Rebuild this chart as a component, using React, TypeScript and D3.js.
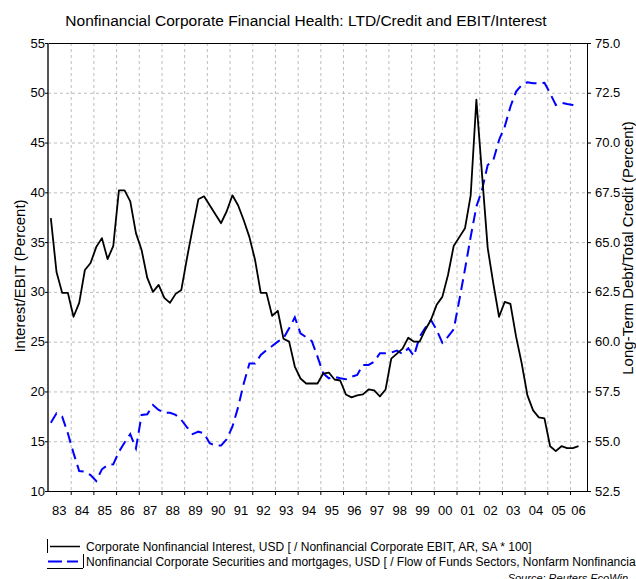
import React from 'react';
import * as d3 from 'd3';

// quarterly series, 1983Q1 .. 2006Q2
const startYear = 1983;

const interestEbit = [
  37.4, 32.0, 29.9, 29.9, 27.5, 28.9, 32.2, 32.9, 34.5, 35.4, 33.3, 34.6,
  40.2, 40.2, 39.1, 35.9, 34.2, 31.4, 30.0, 30.7, 29.4, 28.9, 29.8, 30.2,
  33.4, 36.4, 39.3, 39.6, 38.7, 37.8, 36.9, 38.1, 39.7, 38.7, 37.2, 35.5,
  33.2, 29.9, 29.9, 27.6, 28.1, 25.3, 25.0, 22.5, 21.3, 20.8, 20.8, 20.8,
  21.8, 21.9, 21.2, 21.1, 19.7, 19.4, 19.6, 19.7, 20.2, 20.1, 19.5, 20.2,
  23.3, 23.8, 24.3, 25.4, 25.0, 25.0, 26.2, 27.2, 28.7, 29.5, 31.7, 34.6,
  35.5, 36.4, 39.7, 49.3, 41.8, 34.4, 30.8, 27.5, 29.0, 28.8, 25.5, 22.8,
  19.6, 18.1, 17.4, 17.3, 14.5, 14.0, 14.5, 14.3, 14.3, 14.5,
];

const ltdCredit = [
  55.93, 56.4, 56.23, 55.4, 54.4, 53.5, 53.47, 53.3, 53.0, 53.59, 53.8, 53.84,
  54.47, 54.94, 55.36, 54.64, 56.32, 56.35, 56.82, 56.57, 56.43, 56.43, 56.32, 56.07,
  55.7, 55.36, 55.48, 55.4, 54.9, 54.78, 54.78, 55.1, 55.73, 56.7, 57.9, 58.9,
  58.9, 59.33, 59.58, 59.78, 60.0, 60.17, 60.67, 61.22, 60.42, 60.22, 60.03, 59.25,
  58.41, 58.16, 58.24, 58.16, 58.11, 58.24, 58.33, 58.83, 58.83, 59.0, 59.42, 59.42,
  59.45, 59.55, 59.38, 59.67, 59.28, 60.25, 60.7, 61.09, 60.59, 59.95, 60.25, 60.62,
  62.09, 63.65, 65.27, 66.78, 67.62, 68.87, 69.12, 70.13, 70.8, 71.8, 72.56, 72.9,
  73.03, 72.98, 72.98, 73.0, 72.47, 71.89, 72.0, 71.94, 71.89, 71.8,
];

const yearLabels = [
  '83', '84', '85', '86', '87', '88', '89', '90', '91', '92', '93', '94',
  '95', '96', '97', '98', '99', '00', '01', '02', '03', '04', '05', '06',
];
const leftTicks = [10, 15, 20, 25, 30, 35, 40, 45, 50, 55];
const rightTicks = [52.5, 55, 57.5, 60, 62.5, 65, 67.5, 70, 72.5, 75];

const legendLabels = [
  'Corporate Nonfinancial Interest, USD [ / Nonfinancial Corporate EBIT, AR, SA * 100]',
  'Nonfinancial Corporate Securities and mortgages, USD [ / Flow of Funds Sectors, Nonfarm Nonfinancial Corporate Business, Total Liabilities]',
];

const font = "'Liberation Sans', Arial, sans-serif";

export default function App() {
  const width = 636;
  const height = 579;
  const plot = { left: 48, right: 587, top: 43, bottom: 491 };

  const x = d3.scaleLinear().domain([startYear, 2006.75]).range([plot.left, plot.right]);
  const yL = d3.scaleLinear().domain([10, 55]).range([plot.bottom, plot.top]);
  const yR = d3.scaleLinear().domain([52.5, 75]).range([plot.bottom, plot.top]);

  const t = (i: number) => startYear + (i + 0.5) / 4;

  const blackLine = d3
    .line<number>()
    .x((_, i) => x(t(i)))
    .y((d) => yL(d));
  const blueLine = d3
    .line<number>()
    .x((_, i) => x(t(i)))
    .y((d) => yR(d));

  const years = yearLabels.map((_, i) => startYear + i);

  return (
    <svg
      width={width}
      height={height}
      style={{ position: 'absolute', left: 0, top: 0, background: '#fff' }}
      fontFamily={font}
    >
      <text x={306} y={26} textAnchor="middle" fontSize={15.5} fill="#000">
        Nonfinancial Corporate Financial Health: LTD/Credit and EBIT/Interest
      </text>

      {/* grid */}
      <g stroke="#bdbdbd" strokeWidth={1} strokeDasharray="3,3">
        {leftTicks.slice(1, -1).map((v) => (
          <line key={'h' + v} x1={plot.left} x2={plot.right} y1={yL(v) + 0.5} y2={yL(v) + 0.5} />
        ))}
        {years.slice(1).map((yr) => (
          <line key={'v' + yr} x1={x(yr) + 0.5} x2={x(yr) + 0.5} y1={plot.top} y2={plot.bottom} />
        ))}
      </g>

      {/* frame */}
      <rect
        x={plot.left + 0.5}
        y={plot.top + 0.5}
        width={plot.right - plot.left}
        height={plot.bottom - plot.top}
        fill="none"
        stroke="#000"
        strokeWidth={1}
      />
      <line x1={plot.left} x2={plot.left} y1={plot.top} y2={plot.bottom} stroke="#555" strokeWidth={2} />

      {/* left axis */}
      <g fontSize={13} fill="#000">
        {leftTicks.map((v) => (
          <g key={'l' + v}>
            <line x1={plot.left - 3} x2={plot.left} y1={yL(v) + 0.5} y2={yL(v) + 0.5} stroke="#000" />
            <text x={plot.left - 3} y={yL(v)} dy="0.35em" textAnchor="end">
              {v}
            </text>
          </g>
        ))}
      </g>

      {/* right axis */}
      <g fontSize={13} fill="#000">
        {rightTicks.map((v) => (
          <g key={'r' + v}>
            <line x1={plot.right} x2={plot.right + 4} y1={yR(v) + 0.5} y2={yR(v) + 0.5} stroke="#000" />
            <text x={plot.right + 8} y={yR(v)} dy="0.35em" textAnchor="start">
              {v.toFixed(1)}
            </text>
          </g>
        ))}
      </g>

      {/* bottom axis */}
      <g fontSize={13} fill="#000">
        {years.map((yr, i) => {
          const end = Math.min(yr + 1, 2006.75);
          return (
            <g key={'x' + yr}>
              {i > 0 && (
                <line x1={x(yr) + 0.5} x2={x(yr) + 0.5} y1={plot.bottom} y2={plot.bottom + 4} stroke="#000" />
              )}
              <text x={x((yr + end) / 2)} y={plot.bottom + 24} textAnchor="middle">
                {yearLabels[i]}
              </text>
            </g>
          );
        })}
      </g>

      {/* axis titles */}
      <text
        transform={`translate(25,${276}) rotate(-90)`}
        textAnchor="middle"
        fontSize={15}
        fill="#000"
      >
        Interest/EBIT (Percent)
      </text>
      <text
        transform={`translate(633,${248}) rotate(-90)`}
        textAnchor="middle"
        fontSize={15}
        fill="#000"
      >
        Long-Term Debt/Total Credit (Percent)
      </text>

      {/* series */}
      <path d={blueLine(ltdCredit) ?? ''} fill="none" stroke="#0000ff" strokeWidth={2} strokeDasharray="11,6" />
      <path d={blackLine(interestEbit) ?? ''} fill="none" stroke="#000" strokeWidth={1.8} strokeLinejoin="round" />

      {/* legend */}
      <g fontSize={12} fill="#000">
        <line x1={47.5} x2={47.5} y1={539} y2={553} stroke="#000" />
        <line x1={50} x2={80} y1={546.5} y2={546.5} stroke="#000" strokeWidth={1.5} />
        <text x={86} y={551}>
          {legendLabels[0]}
        </text>
        <line x1={48} x2={78} y1={561.5} y2={561.5} stroke="#0000ff" strokeWidth={2} strokeDasharray="14,5" />
        <line x1={47} x2={83} y1={568.5} y2={568.5} stroke="#000" />
        <line x1={83.5} x2={83.5} y1={554} y2={568} stroke="#000" />
        <text x={86} y={566}>
          {legendLabels[1]}
        </text>
        <text x={628} y={582} textAnchor="end" fontSize={11} fontStyle="italic">
          Source: Reuters EcoWin
        </text>
      </g>
    </svg>
  );
}
